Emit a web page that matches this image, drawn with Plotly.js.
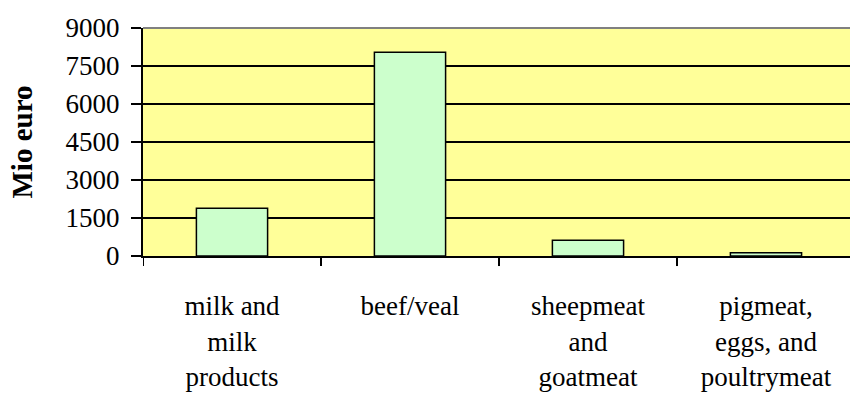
<!DOCTYPE html>
<html>
<head>
<meta charset="utf-8">
<script src="https://cdn.plot.ly/plotly-3.0.1.min.js"></script>
<style>html,body{margin:0;padding:0;background:#fff;overflow:hidden}</style>
</head>
<body>
<div id="chart" style="width:850px;height:400px"></div>
<script>
const categories = ["milk and<br>milk<br>products", "beef/veal", "sheepmeat<br>and<br>goatmeat", "pigmeat,<br>eggs, and<br>poultrymeat"];
const values = [1880, 8040, 620, 130];
const yTicks = [0, 1500, 3000, 4500, 6000, 7500, 9000];

const trace = {
  type: "bar",
  x: [0, 1, 2, 3],
  y: values,
  width: 0.4,
  marker: {color: "#CCFFCC", line: {color: "#000000", width: 1.5}},
  hoverinfo: "none"
};

const FONT = "Liberation Serif";

const layout = {
  width: 850, height: 400,
  margin: {l: 143, r: 0, t: 28, b: 144, pad: 0},
  paper_bgcolor: "#ffffff",
  plot_bgcolor: "#FFFF99",
  font: {family: FONT, size: 26, color: "#000"},
  showlegend: false,
  xaxis: {
    type: "linear",
    range: [-0.5, 3.472],
    tickmode: "array",
    tickvals: [0, 1, 2, 3],
    ticktext: categories,
    ticks: "",
    showgrid: false,
    zeroline: false,
    showline: true, linecolor: "#000", linewidth: 2,
    ticklabelstandoff: 25,
    tickfont: {family: FONT, size: 27, color: "#000"}
  },
  yaxis: {
    range: [0, 9000],
    tickmode: "array",
    tickvals: yTicks,
    ticktext: yTicks.map(String),
    ticks: "outside", ticklen: 10, tickwidth: 2, tickcolor: "#000",
    showgrid: true, gridcolor: "#000", gridwidth: 1.5,
    zeroline: false,
    showline: true, linecolor: "#000", linewidth: 2,
    ticklabelstandoff: 6,
    tickfont: {family: FONT, size: 27, color: "#000"},
    title: {text: "<b>Mio euro</b>", font: {family: FONT, size: 29, color: "#000"}, standoff: 24}
  },
  shapes: [
    {type: "line", xref: "paper", yref: "paper", x0: 0, x1: 1, y0: 1, y1: 1, line: {color: "#808080", width: 2}},
    {type: "line", xref: "x", yref: "paper", x0: -0.5, x1: -0.5, y0: 0, y1: -0.044, line: {color: "#000", width: 2}},
    {type: "line", xref: "x", yref: "paper", x0: 0.5, x1: 0.5, y0: 0, y1: -0.044, line: {color: "#000", width: 2}},
    {type: "line", xref: "x", yref: "paper", x0: 1.5, x1: 1.5, y0: 0, y1: -0.044, line: {color: "#000", width: 2}},
    {type: "line", xref: "x", yref: "paper", x0: 2.5, x1: 2.5, y0: 0, y1: -0.044, line: {color: "#000", width: 2}}
  ]
};

Plotly.newPlot("chart", [trace], layout, {displayModeBar: false, staticPlot: true});
</script>
</body>
</html>
